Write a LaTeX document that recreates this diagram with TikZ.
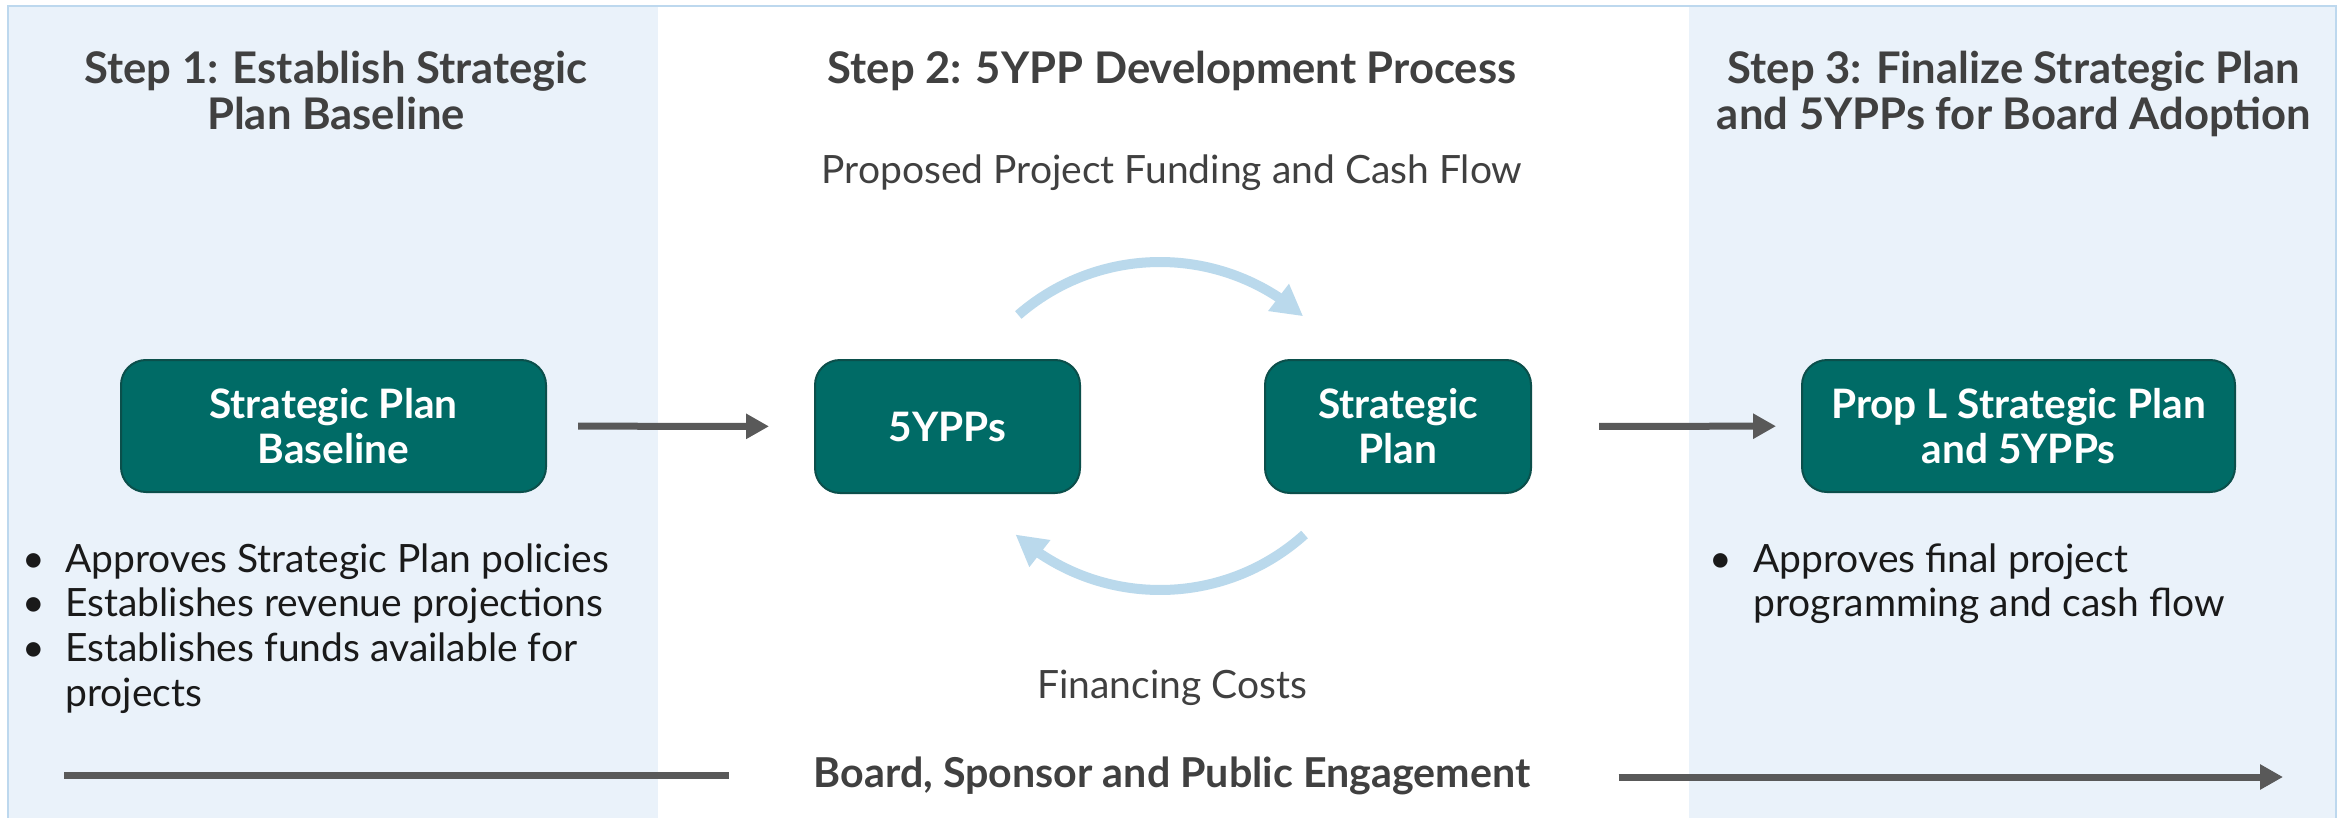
\documentclass[tikz,border=0pt]{standalone}
\usepackage{fontspec}
\setmainfont{Lato}
\usetikzlibrary{arrows.meta,bending}

\definecolor{panelblue}{HTML}{EAF2FA}
\definecolor{panelline}{HTML}{BDD8EE}
\definecolor{boxteal}{HTML}{006B66}
\definecolor{boxedge}{HTML}{0B4F4B}
\definecolor{headgray}{HTML}{404040}
\definecolor{arrowgray}{HTML}{595959}
\definecolor{cycleblue}{HTML}{BAD9EC}
\definecolor{bodytext}{HTML}{1A1A1A}

\newcommand{\bulletmark}{\textbullet}

\tikzset{
  stepbox/.style={rectangle, rounded corners=12.5pt, fill=boxteal, draw=boxedge,
    line width=1pt, text=white, align=center, inner sep=0pt,
    font=\bfseries\fontsize{20.3}{22.5}\selectfont},
  heading/.style={anchor=base, text=headgray, inner sep=0pt,
    font=\bfseries\fontsize{21.8}{23}\selectfont},
  flowlabel/.style={anchor=base, text=headgray, inner sep=0pt,
    font=\fontsize{19.5}{22.5}\selectfont},
  bodyline/.style={anchor=base west, text=bodytext, inner sep=0pt,
    font=\fontsize{19.5}{22.5}\selectfont},
  engage/.style={anchor=base, text=headgray, inner sep=0pt,
    font=\bfseries\fontsize{20.6}{23}\selectfont},
  grayarrow/.style={draw=arrowgray, line width=3.5pt,
    -{Triangle[width=12pt,length=11.5pt]}},
  grayline/.style={draw=arrowgray, line width=3.5pt},
  cyclearrow/.style={draw=cycleblue, line width=5pt,
    -{Triangle[width=16pt,length=15.5pt]}}
}

\begin{document}
\begin{tikzpicture}[x=0.5pt, y=-0.5pt]
  \useasboundingbox (0,0) rectangle (2348,818);
  \fill[white] (0,0) rectangle (2348,818);

  % side panels for steps 1 and 3
  \fill[panelblue] (8,6) rectangle (658,818);
  \fill[panelblue] (1689,6) rectangle (2336,818);
  \draw[panelline, line width=1pt] (8,818) -- (8,6) -- (2336,6) -- (2336,818);

  % column headings
  \node[heading] (h1a) at (336,84)  {Step 1: Establish Strategic};
  \node[heading] (h1b) at (336,130) {Plan Baseline};
  \node[heading] (h2)  at (1172,84) {Step 2: 5YPP Development Process};
  \node[heading] (h3a) at (2014,84) {Step 3: Finalize Strategic Plan};
  \node[heading] (h3b) at (2014,130) {and 5YPPs for Board Adoption};

  % process boxes
  \node[stepbox, minimum width=212.5pt, minimum height=66pt] (base) at (333.5,426)
    {Strategic Plan\\Baseline};
  \node[stepbox, minimum width=132.5pt, minimum height=66.5pt] (fyp) at (947.5,426.5)
    {5YPPs};
  \node[stepbox, minimum width=133pt, minimum height=66.5pt] (plan) at (1398,426.5)
    {Strategic\\Plan};
  \node[stepbox, minimum width=216.5pt, minimum height=66pt] (propl) at (2018.5,426)
    {Prop L Strategic Plan\\and 5YPPs};

  % straight connectors between the steps
  \draw[grayarrow, shorten <=15.5pt, shorten >=22.5pt] (base) -- (fyp);
  \draw[grayarrow, shorten <=33.5pt, shorten >=12.5pt] (plan) -- (propl);

  % iteration loop between 5YPPs and the Strategic Plan
  \coordinate (loop) at (1160,426);
  \draw[cyclearrow] (loop) ++(0,52) ++(-131:216)
    arc[start angle=-131, end angle=-48.5, radius=216];
  \draw[cyclearrow] (loop) ++(0,-52) ++(48:216)
    arc[start angle=48, end angle=132, radius=216];
  \node[flowlabel] (fund) at (1172,184) {Proposed Project Funding and Cash Flow};
  \node[flowlabel] (fin)  at (1172,698) {Financing Costs};

  % step 1 notes
  \node[bodyline] (b1m) at (22,572)  {\bulletmark};
  \node[bodyline] (b1)  at (65,572)  {Approves Strategic Plan policies};
  \node[bodyline] (b2m) at (22,616)  {\bulletmark};
  \node[bodyline] (b2)  at (65,616)  {Establishes revenue projections};
  \node[bodyline] (b3m) at (22,661)  {\bulletmark};
  \node[bodyline] (b3)  at (65,661)  {Establishes funds available for};
  \node[bodyline] (b3c) at (65,706)  {projects};

  % step 3 notes
  \node[bodyline] (r1m) at (1709,572) {\bulletmark};
  \node[bodyline] (r1)  at (1753,572) {Approves final project};
  \node[bodyline] (r1c) at (1753,616) {programming and cash flow};

  % engagement band along the bottom
  \node[engage] (eng) at (1172,787) {Board, Sponsor and Public Engagement};
  \coordinate (engL) at (64,775);
  \coordinate (engR) at (2283,777);
  \draw[grayline] (engL) -- ([xshift=-42pt]eng.west |- engL);
  \draw[grayarrow] ([xshift=44pt]eng.east |- engR) -- (engR);
\end{tikzpicture}
\end{document}
